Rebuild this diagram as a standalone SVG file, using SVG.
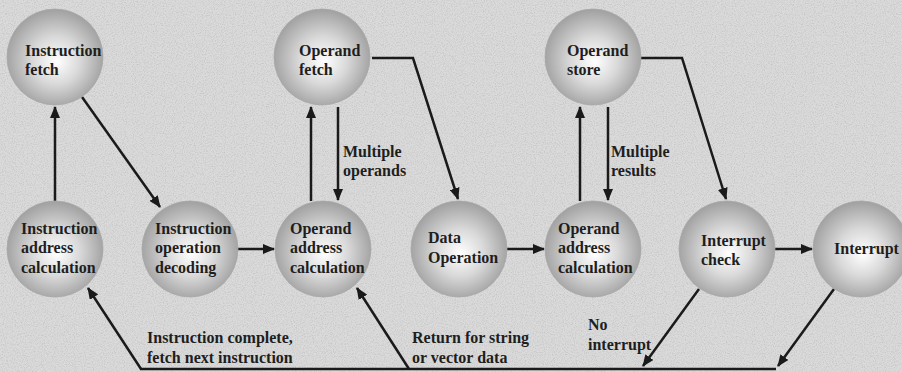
<svg xmlns="http://www.w3.org/2000/svg" width="902" height="372" viewBox="0 0 902 372">
<defs>
<radialGradient id="ball" cx="0.5" cy="0.52" r="0.55" fx="0.52" fy="0.55">
<stop offset="0" stop-color="#ffffff"/>
<stop offset="0.45" stop-color="#d9d9d9"/>
<stop offset="1" stop-color="#9a9a9a"/>
</radialGradient>
<filter id="noise" x="0" y="0" width="100%" height="100%">
<feTurbulence type="fractalNoise" baseFrequency="0.9" numOctaves="2" seed="3" result="t"/>
<feColorMatrix in="t" type="matrix" values="0 0 0 0 0.55  0 0 0 0 0.55  0 0 0 0 0.55  0 0 0 -2.2 1.25" result="n"/>
<feComposite in="n" in2="SourceGraphic" operator="in"/>
</filter>
<marker id="ah" markerWidth="12" markerHeight="10" refX="11" refY="5" orient="auto" markerUnits="userSpaceOnUse">
<path d="M0,0 L12,5 L0,10 Z" fill="#1a1a1a"/>
</marker>
<style>
.n circle{fill:url(#ball);stroke:#a8a8a8;stroke-width:0.8}
.n text,.lbl{font-family:"Liberation Serif","Times New Roman",serif;font-weight:bold;font-size:16px;fill:#1e1e1e}
.c path{fill:none;stroke:#1a1a1a;stroke-width:2.5}
.c .a{marker-end:url(#ah)}
</style>
</defs>
<rect width="902" height="372" fill="#dadada"/>
<rect width="902" height="372" fill="#dadada" filter="url(#noise)"/>

<g id="connectors" class="c">
<path class="a" d="M55,201 V107"/>
<path class="a" d="M82,97 L160,207"/>
<path class="a" d="M237,249 H274"/>
<path class="a" d="M311,201 V107"/>
<path class="a" d="M338,107 V200"/>
<path class="a" d="M372,58 H413 L458,199"/>
<path class="a" d="M507,249 H544"/>
<path class="a" d="M580,201 V107"/>
<path class="a" d="M608,107 V200"/>
<path class="a" d="M641,58 H682 L726,199"/>
<path class="a" d="M775,249 H812"/>
<path class="a" d="M699,289 L643,366"/>
<path class="a" d="M834,289 L778,366"/>
<path d="M776,369 H140" stroke-width="3"/>
<path class="a" d="M141,369 L88,288"/>
<path class="a" d="M409,369 L357,288"/>
</g>

<g id="instruction-fetch" class="n">
<circle cx="55" cy="57" r="48"/>
<text x="25" y="56">Instruction</text>
<text x="25" y="75">fetch</text>
</g>
<g id="operand-fetch" class="n">
<circle cx="322" cy="57" r="48"/>
<text x="299" y="56">Operand</text>
<text x="299" y="75">fetch</text>
</g>
<g id="operand-store" class="n">
<circle cx="593" cy="57" r="48"/>
<text x="567" y="56">Operand</text>
<text x="567" y="75">store</text>
</g>
<g id="instruction-address-calculation" class="n">
<circle cx="55" cy="249" r="48"/>
<text x="21" y="234">Instruction</text>
<text x="21" y="253">address</text>
<text x="21" y="273">calculation</text>
</g>
<g id="instruction-operation-decoding" class="n">
<circle cx="190" cy="249" r="48"/>
<text x="155" y="234">Instruction</text>
<text x="155" y="253">operation</text>
<text x="155" y="273">decoding</text>
</g>
<g id="operand-address-calculation-1" class="n">
<circle cx="323" cy="249" r="48"/>
<text x="290" y="234">Operand</text>
<text x="290" y="253">address</text>
<text x="290" y="273">calculation</text>
</g>
<g id="data-operation" class="n">
<circle cx="459" cy="249" r="48"/>
<text x="428" y="243">Data</text>
<text x="428" y="263">Operation</text>
</g>
<g id="operand-address-calculation-2" class="n">
<circle cx="593" cy="249" r="48"/>
<text x="558" y="234">Operand</text>
<text x="558" y="253">address</text>
<text x="558" y="273">calculation</text>
</g>
<g id="interrupt-check" class="n">
<circle cx="727" cy="249" r="48"/>
<text x="701" y="246">Interrupt</text>
<text x="701" y="265">check</text>
</g>
<g id="interrupt" class="n">
<circle cx="861" cy="249" r="48"/>
<text x="834" y="254">Interrupt</text>
</g>

<g id="labels">
<text class="lbl" x="343" y="157">Multiple</text>
<text class="lbl" x="343" y="176">operands</text>
<text class="lbl" x="611" y="157">Multiple</text>
<text class="lbl" x="611" y="176">results</text>
<text class="lbl" x="147" y="343">Instruction complete,</text>
<text class="lbl" x="147" y="363">fetch next instruction</text>
<text class="lbl" x="412" y="343">Return for string</text>
<text class="lbl" x="412" y="363">or vector data</text>
<text class="lbl" x="588" y="330">No</text>
<text class="lbl" x="588" y="350">interrupt</text>
</g>
</svg>
